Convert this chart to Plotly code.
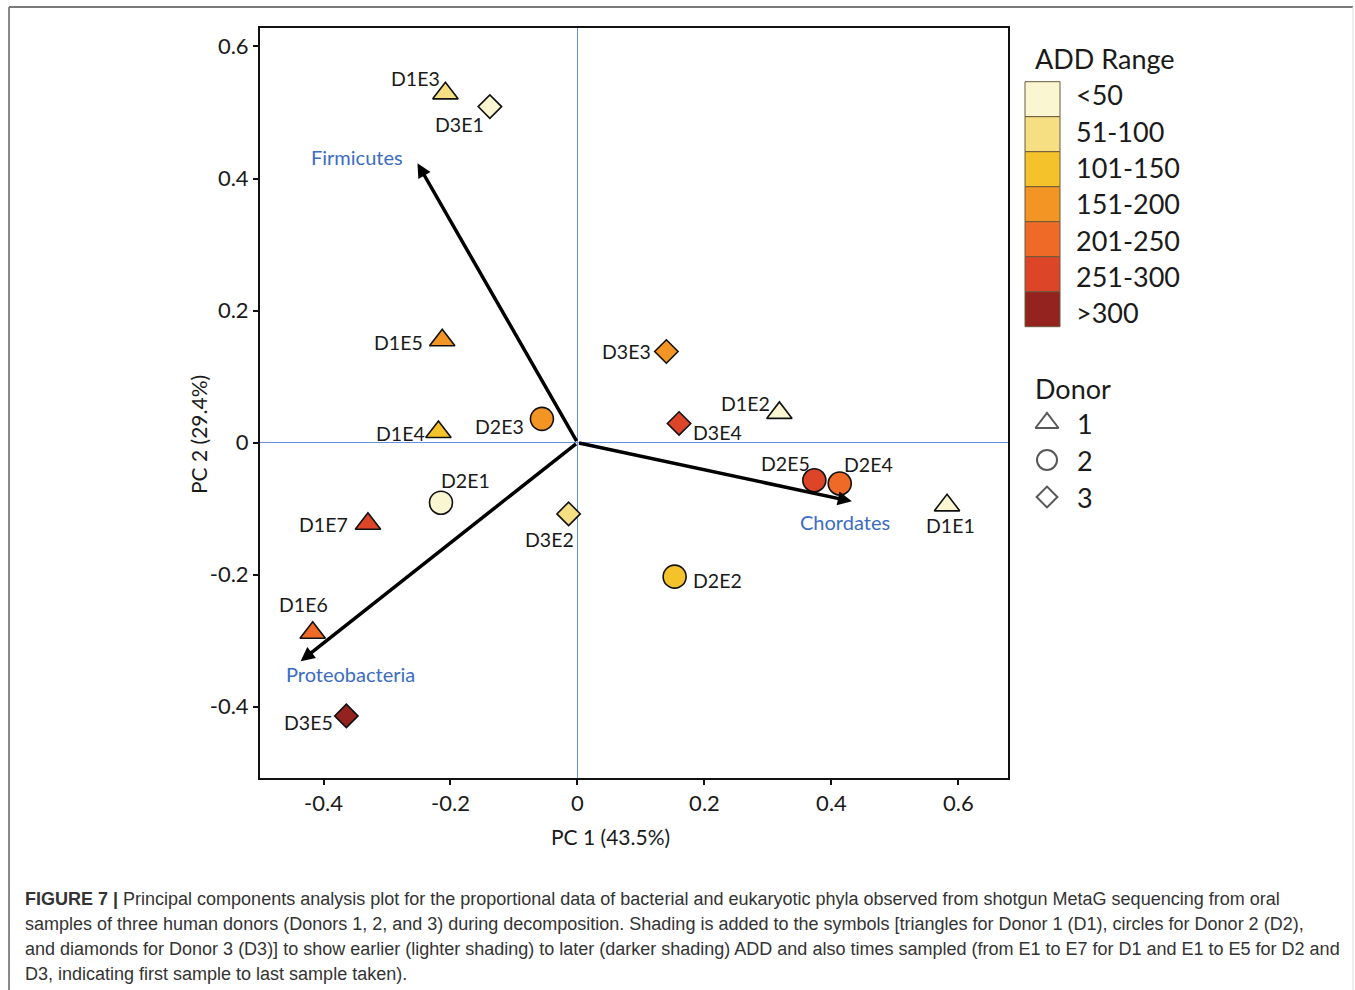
import plotly.graph_objects as go

W, H = 1355, 990

# ---------------- data ----------------
add_ranges = ["<50", "51-100", "101-150", "151-200", "201-250", "251-300", ">300"]
add_colors = ["#FAF6D2", "#F5DF82", "#F4C22B", "#F29524", "#EE6A26", "#DD4528", "#94221F"]

d1_names = ["D1E1", "D1E2", "D1E3", "D1E4", "D1E5", "D1E6", "D1E7"]
d1_pc1 = [0.582, 0.318, -0.208, -0.219, -0.213, -0.417, -0.330]
d1_pc2 = [-0.095, 0.045, 0.529, 0.016, 0.155, -0.288, -0.123]
d1_add = ["<50", "<50", "51-100", "101-150", "151-200", "201-250", "251-300"]

d2_names = ["D2E1", "D2E2", "D2E3", "D2E4", "D2E5"]
d2_pc1 = [-0.215, 0.153, -0.056, 0.413, 0.373]
d2_pc2 = [-0.091, -0.203, 0.036, -0.062, -0.057]
d2_add = ["<50", "101-150", "151-200", "201-250", "251-300"]

d3_names = ["D3E1", "D3E2", "D3E3", "D3E4", "D3E5"]
d3_pc1 = [-0.138, -0.014, 0.140, 0.160, -0.364]
d3_pc2 = [0.509, -0.108, 0.138, 0.029, -0.414]
d3_add = ["<50", "51-100", "151-200", "251-300", ">300"]

phyla = ["Firmicutes", "Chordates", "Proteobacteria"]
load_pc1 = [-0.252, 0.432, -0.436]
load_pc2 = [0.423, -0.089, -0.331]

donor_labels = ["1", "2", "3"]

x_ticks = [-0.4, -0.2, 0, 0.2, 0.4, 0.6]
y_ticks = [-0.4, -0.2, 0, 0.2, 0.4, 0.6]

caption_lines = [
    "<b>FIGURE 7 |</b> Principal components analysis plot for the proportional data of bacterial and eukaryotic phyla observed from shotgun MetaG sequencing from oral",
    "samples of three human donors (Donors 1, 2, and 3) during decomposition. Shading is added to the symbols [triangles for Donor 1 (D1), circles for Donor 2 (D2),",
    "and diamonds for Donor 3 (D3)] to show earlier (lighter shading) to later (darker shading) ADD and also times sampled (from E1 to E7 for D1 and E1 to E5 for D2 and",
    "D3, indicating first sample to last sample taken).",
]

# ---------------- styling ----------------
FONT = "Lato"
BLUE_TXT = "#3B6CC2"
AXIS_BLUE = "#6A8FDB"
TXT = "#1a1a1a"
color_of = dict(zip(add_ranges, add_colors))

# label offsets from marker centre, in pixels (dx right, dy down)
label_offsets = {
    "D1E1": (3, 20), "D1E2": (-34, -9), "D1E3": (-30, -15), "D1E4": (-38, 1),
    "D1E5": (-44, 2), "D1E6": (-9, -28), "D1E7": (-44, 1),
    "D2E1": (25, -22), "D2E2": (43, 4), "D2E3": (-42, 8), "D2E4": (29, -19),
    "D2E5": (-29, -17),
    "D3E1": (-30, 18), "D3E2": (-19, 26), "D3E3": (-40, 0), "D3E4": (38, 9),
    "D3E5": (-38, 7),
}

# plot area in pixels
PX0, PX1, PY0, PY1 = 260, 1008, 28, 778


def px(x):
    return x / W


def py(y):
    return 1 - y / H


def paper_text(x, y, text, size, xanchor="left", color=TXT, family=FONT, **kw):
    return dict(x=px(x), y=py(y), xref="paper", yref="paper", text=text,
                xanchor=xanchor, yanchor="middle", showarrow=False,
                font=dict(family=family, size=size, color=color), **kw)


fig = go.Figure()

donors = [
    ("1", d1_names, d1_pc1, d1_pc2, d1_add, "triangle-up", 22),
    ("2", d2_names, d2_pc1, d2_pc2, d2_add, "circle", 23),
    ("3", d3_names, d3_pc1, d3_pc2, d3_add, "diamond", 18),
]

annotations = []

# loading vectors
for name, lx, ly in zip(phyla, load_pc1, load_pc2):
    annotations.append(dict(
        x=lx, y=ly, ax=0, ay=0, xref="x", yref="y", axref="x", ayref="y",
        showarrow=True, arrowhead=2, arrowsize=0.8, arrowwidth=3.5,
        arrowcolor="black", text="", standoff=0,
    ))

for donor, names, xs, ys, adds, sym, size in donors:
    fig.add_trace(go.Scatter(
        x=xs, y=ys, mode="markers", name="Donor " + donor,
        marker=dict(symbol=sym, size=size, color=[color_of[a] for a in adds],
                    line=dict(color="#111111", width=1.6)),
        showlegend=False, cliponaxis=False,
    ))
    for n, xv, yv in zip(names, xs, ys):
        dx, dy = label_offsets[n]
        annotations.append(dict(
            x=xv, y=yv, xref="x", yref="y", text=n, showarrow=False,
            xanchor="center", yanchor="middle",
            xshift=dx, yshift=-dy, font=dict(family=FONT, size=19.5, color=TXT),
        ))

# phylum labels near the arrow tips
phylum_offsets = {"Firmicutes": (-60, -6), "Chordates": (-7, 21), "Proteobacteria": (50, 13)}
for name, lx, ly in zip(phyla, load_pc1, load_pc2):
    dx, dy = phylum_offsets[name]
    annotations.append(dict(
        x=lx, y=ly, xref="x", yref="y", text=name, showarrow=False,
        xanchor="center", yanchor="middle",
        xshift=dx, yshift=-dy, font=dict(family=FONT, size=20, color=BLUE_TXT),
    ))

# axis titles
annotations.append(paper_text(610, 836, "PC 1 (43.5%)", 21, xanchor="center"))
annotations.append(paper_text(198, 435, "PC 2 (29.4%)", 21, xanchor="center", textangle=-90))

# legend: ADD range swatches
shapes = []
sw_top, sw_h = 81.7, 35.0
annotations.append(paper_text(1033, 58, "ADD Range", 27))
for i, (lab, col) in enumerate(zip(add_ranges, add_colors)):
    y0 = sw_top + i * sw_h
    shapes.append(dict(type="rect", xref="paper", yref="paper",
                       x0=px(1025), x1=px(1060), y0=py(y0), y1=py(y0 + sw_h),
                       fillcolor=col, line=dict(color="#6b5a3a", width=1)))
    annotations.append(paper_text(1074, 95 + i * 36.3, lab, 27))

# legend: donor symbols (drawn on a hidden full-figure pixel axis)
annotations.append(paper_text(1033, 388, "Donor", 27))
leg_y = [423, 460, 497]
fig.add_trace(go.Scatter(
    x=[1047, 1047, 1047], y=leg_y, xaxis="x2", yaxis="y2", mode="markers",
    marker=dict(symbol=["triangle-up-open", "circle-open", "diamond-open"], size=[20, 20, 16],
                color="#111111", line=dict(width=2)),
    showlegend=False, hoverinfo="skip",
))
for lab, yy in zip(donor_labels, leg_y):
    annotations.append(paper_text(1075, yy, lab, 27))

# caption
for i, line in enumerate(caption_lines):
    annotations.append(paper_text(23, 899 + i * 25, line, 18.0, family="Liberation Sans",
                                  color="#333333"))

# figure border
shapes += [
    dict(type="line", xref="paper", yref="paper", x0=px(9), x1=px(9), y0=py(7), y1=py(995),
         line=dict(color="#8a8a8a", width=2)),
    dict(type="line", xref="paper", yref="paper", x0=px(9), x1=px(1353), y0=py(7), y1=py(7),
         line=dict(color="#7a7a7a", width=2)),
    dict(type="line", xref="paper", yref="paper", x0=px(1353), x1=px(1353), y0=py(7), y1=py(995),
         line=dict(color="#dddddd", width=1)),
]

axis_common = dict(
    showgrid=False, zeroline=True, zerolinecolor=AXIS_BLUE, zerolinewidth=1.3,
    showline=True, linecolor="#111111", linewidth=2, mirror=True,
    ticks="outside", ticklen=5, tickwidth=1.5, tickcolor="#111111",
    tickfont=dict(family=FONT, size=22, color=TXT),
)

fig.update_layout(
    width=W, height=H, margin=dict(l=0, r=0, t=0, b=0),
    paper_bgcolor="white", plot_bgcolor="rgba(0,0,0,0)",
    font=dict(family=FONT, color=TXT),
    annotations=annotations, shapes=shapes,
    xaxis=dict(domain=[px(PX0), px(PX1)], range=[-0.5, 0.678], tickvals=x_ticks,
               ticktext=["-0.4", "-0.2", "0", "0.2", "0.4", "0.6"], anchor="y", **axis_common),
    yaxis=dict(domain=[py(PY1), py(PY0)], range=[-0.508, 0.628], tickvals=y_ticks,
               ticktext=["-0.4", "-0.2", "0", "0.2", "0.4", "0.6"], anchor="x", **axis_common),
    xaxis2=dict(domain=[0, 1], range=[0, W], visible=False, anchor="y2"),
    yaxis2=dict(domain=[0, 1], range=[H, 0], visible=False, anchor="x2"),
)

fig.write_html("out.html")
